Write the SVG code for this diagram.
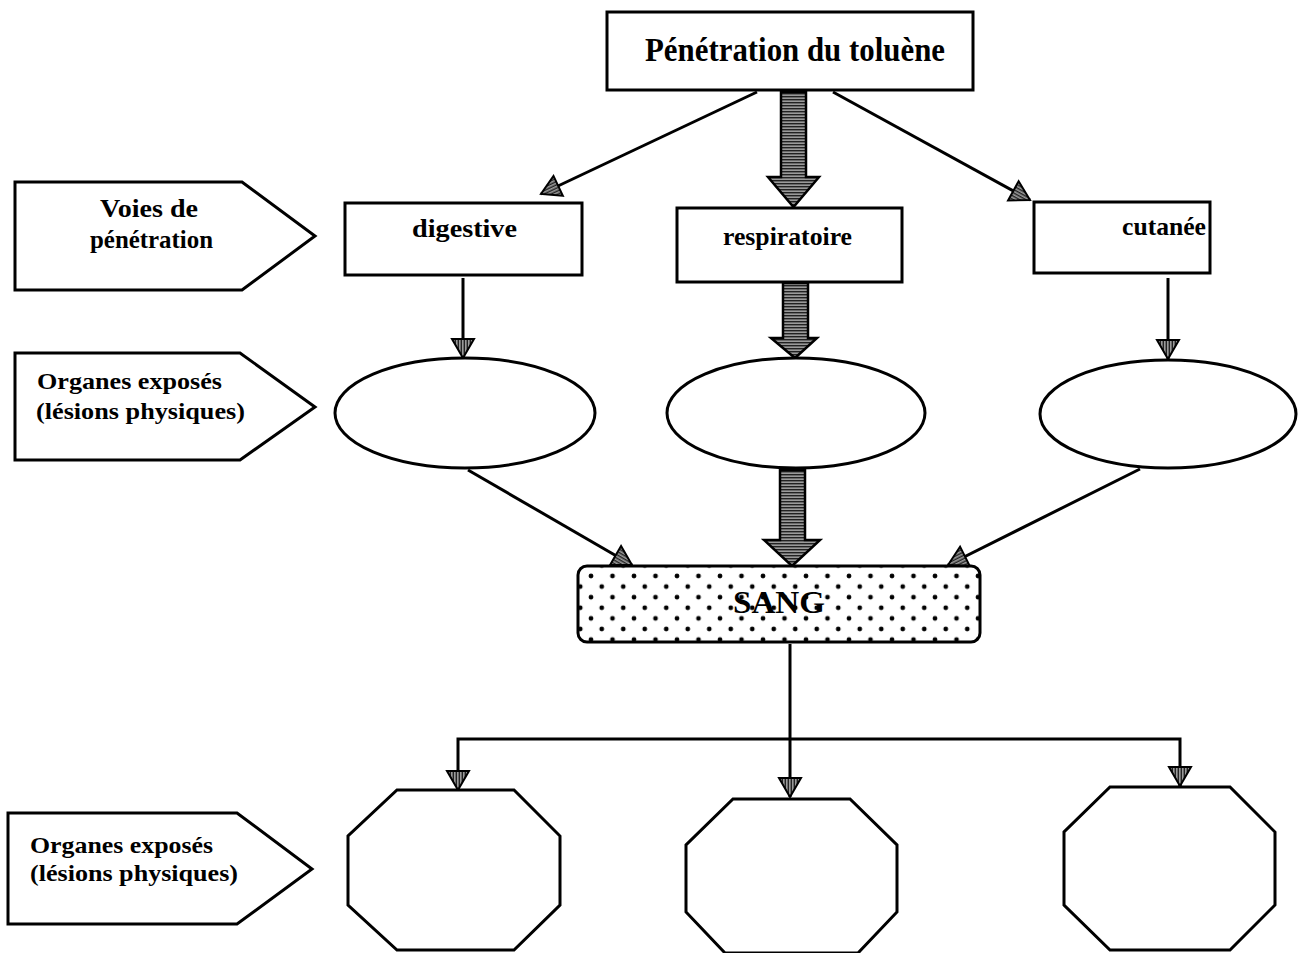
<svg xmlns="http://www.w3.org/2000/svg" width="1302" height="953" viewBox="0 0 1302 953">
<style>
.box{fill:#fff;stroke:#000;stroke-width:3}
.ln{fill:none;stroke:#000;stroke-width:3}
.thick{fill:url(#hatch);stroke:#000;stroke-width:2.5;stroke-linejoin:miter}
.t{font-family:"Liberation Serif","Times New Roman",serif;font-weight:bold;fill:#000}
</style>
<defs>
<pattern id="hatch" patternUnits="userSpaceOnUse" width="4" height="3">
<rect width="4" height="3" fill="#9a9a9a"/>
<rect width="4" height="1.4" fill="#222"/>
</pattern>
<pattern id="dots" patternUnits="userSpaceOnUse" x="591" y="576" width="21.5" height="21.2">
<circle cx="0" cy="0" r="2.4"/>
<circle cx="21.5" cy="0" r="2.4"/>
<circle cx="0" cy="21.2" r="2.4"/>
<circle cx="21.5" cy="21.2" r="2.4"/>
<circle cx="10.75" cy="10.6" r="2.4"/>
</pattern>
<marker id="ah" markerUnits="userSpaceOnUse" markerWidth="22" markerHeight="24" refX="19" refY="11" orient="auto" overflow="visible">
<path d="M0,0 L19,11 L0,22 z" fill="url(#hatch)" stroke="#000" stroke-width="2"/>
</marker>
</defs>

<g id="connectors">
<line class="ln" x1="757" y1="92" x2="541" y2="194" marker-end="url(#ah)"/>
<line class="ln" x1="833" y1="92" x2="1030" y2="200" marker-end="url(#ah)"/>
<line class="ln" x1="463" y1="278" x2="463" y2="358" marker-end="url(#ah)"/>
<line class="ln" x1="1168" y1="278" x2="1168" y2="359" marker-end="url(#ah)"/>
<line class="ln" x1="468" y1="470" x2="632" y2="565" marker-end="url(#ah)"/>
<line class="ln" x1="1140" y1="469" x2="948" y2="565" marker-end="url(#ah)"/>
<line class="ln" x1="790" y1="644" x2="790" y2="797" marker-end="url(#ah)"/>
<polyline class="ln" points="458,791 458,739 1180,739 1180,786"/>
<line class="ln" x1="458" y1="770" x2="458" y2="790" marker-end="url(#ah)"/>
<line class="ln" x1="1180" y1="770" x2="1180" y2="786" marker-end="url(#ah)"/>
<path class="thick" d="M781,92 L806,92 L806,177 L819,177 L793.5,207 L768,177 L781,177 z"/>
<path class="thick" d="M783,283 L808,283 L808,338 L817,338 L795,358 L771,338 L783,338 z"/>
<path class="thick" d="M780,470 L805,470 L805,540 L820,540 L792,566 L764,540 L780,540 z"/>
</g>

<g id="top">
<rect class="box" x="607" y="12" width="366" height="78"/>
<text class="t" x="645" y="61" font-size="34" textLength="300" lengthAdjust="spacingAndGlyphs">Pénétration du toluène</text>
</g>

<g id="label-voies">
<path class="box" d="M15,182 L242,182 L315,236 L242,290 L15,290 z"/>
<text class="t" x="100" y="217" font-size="26" textLength="98" lengthAdjust="spacingAndGlyphs">Voies de</text>
<text class="t" x="90" y="248" font-size="26" textLength="123" lengthAdjust="spacingAndGlyphs">pénétration</text>
</g>

<g id="digestive">
<rect class="box" x="345" y="203" width="237" height="72"/>
<text class="t" x="412" y="237" font-size="26" textLength="105" lengthAdjust="spacingAndGlyphs">digestive</text>
</g>

<g id="respiratoire">
<rect class="box" x="677" y="208" width="225" height="74"/>
<text class="t" x="723" y="245" font-size="26" textLength="129" lengthAdjust="spacingAndGlyphs">respiratoire</text>
</g>

<g id="cutanee">
<rect class="box" x="1034" y="202" width="176" height="71"/>
<text class="t" x="1122" y="235" font-size="26" textLength="84" lengthAdjust="spacingAndGlyphs">cutanée</text>
</g>

<g id="label-organes-1">
<path class="box" d="M15,353 L240,353 L315,407 L240,460 L15,460 z"/>
<text class="t" x="37" y="389" font-size="24" textLength="185" lengthAdjust="spacingAndGlyphs">Organes exposés</text>
<text class="t" x="36" y="419" font-size="24" textLength="209" lengthAdjust="spacingAndGlyphs">(lésions physiques)</text>
</g>

<g id="ellipse-left"><ellipse class="box" cx="465" cy="413" rx="130" ry="55"/></g>
<g id="ellipse-mid"><ellipse class="box" cx="796" cy="413" rx="129" ry="55"/></g>
<g id="ellipse-right"><ellipse class="box" cx="1168" cy="414" rx="128" ry="54"/></g>

<g id="sang">
<rect x="578" y="566" width="402" height="76" rx="9" fill="#fff" stroke="none"/>
<rect x="578" y="566" width="402" height="76" rx="9" fill="url(#dots)" stroke="#000" stroke-width="3"/>
<text class="t" x="733" y="613" font-size="32" textLength="92" lengthAdjust="spacingAndGlyphs">SANG</text>
</g>

<g id="label-organes-2">
<path class="box" d="M8,813 L237,813 L312,869 L237,924 L8,924 z"/>
<text class="t" x="30" y="853" font-size="24" textLength="183" lengthAdjust="spacingAndGlyphs">Organes exposés</text>
<text class="t" x="30" y="881" font-size="24" textLength="208" lengthAdjust="spacingAndGlyphs">(lésions physiques)</text>
</g>

<g id="oct-left"><path class="box" d="M397,790 L514,790 L560,836 L560,905 L514,950 L397,950 L348,905 L348,836 z"/></g>
<g id="oct-mid"><path class="box" d="M733,799 L850,799 L897,845 L897,912 L858,953 L725,953 L686,912 L686,845 z"/></g>
<g id="oct-right"><path class="box" d="M1110,787 L1230,787 L1275,832 L1275,905 L1230,950 L1110,950 L1064,905 L1064,832 z"/></g>
</svg>
